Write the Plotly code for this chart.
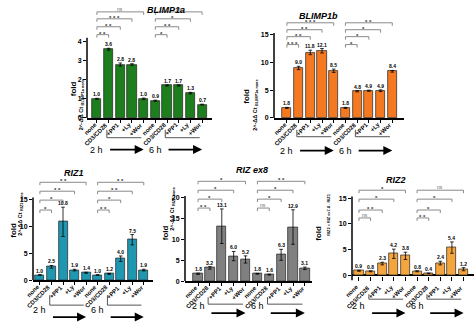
import plotly.graph_objects as go

# ---------------- data ----------------
labels = ["none", "CD3/CD28", "+PP1", "+Ly", "+Wor",
          "none", "CD3/CD28", "+PP1", "+Ly", "+Wor"]
positions = list(range(10))

blimp1a = [1.0, 3.6, 2.8, 2.8, 1.0, 0.9, 1.7, 1.7, 1.3, 0.7]
blimp1a_err = [0.03, 0.05, 0.08, 0.04, 0.04, 0.03, 0.03, 0.03, 0.04, 0.02]
blimp1a_sig = [(0, 1, "* *"), (0, 2, "* *"), (0, 3, "* * *"), (0, 4, "ns"),
               (5, 6, "*"), (5, 7, "* *"), (5, 8, "*"), (5, 9, "ns")]

blimp1b = [1.8, 9.0, 11.8, 12.1, 8.5, 1.8, 4.8, 4.9, 4.9, 8.4]
blimp1b_err = [0.1, 0.3, 0.4, 0.4, 0.3, 0.1, 0.1, 0.1, 0.15, 0.15]
blimp1b_sig = [(0, 1, "* * *"), (0, 2, "* *"), (0, 3, "* *"), (0, 4, "* * *"),
               (5, 6, "*"), (5, 7, "*"), (5, 8, "*"), (5, 9, "* *")]

riz1 = [1.0, 2.5, 10.8, 1.9, 1.4, 1.0, 1.2, 4.0, 7.5, 1.9]
riz1_err = [0.05, 0.25, 2.7, 0.15, 0.1, 0.05, 0.1, 0.5, 0.95, 0.15]
riz1_sig = [(0, 1, "*"), (0, 2, "*"), (0, 3, "* *"), (0, 4, "* *"),
            (5, 6, "* *"), (5, 7, "*"), (5, 8, "* *"), (5, 9, "* *")]

rizex8 = [1.8, 3.2, 13.1, 6.0, 5.2, 1.8, 1.6, 6.3, 12.9, 3.1]
rizex8_err = [0.15, 0.3, 4.1, 1.1, 0.85, 0.1, 0.1, 1.3, 4.1, 0.3]
rizex8_sig = [(0, 1, "* *"), (0, 2, "*"), (0, 3, "*"), (0, 4, "*"),
              (5, 6, "ns"), (5, 7, "*"), (5, 8, "*"), (5, 9, "* *")]

riz2 = [0.9, 0.8, 2.3, 4.2, 3.8, 0.8, 0.4, 2.4, 5.4, 1.2]
riz2_err = [0.1, 0.1, 0.25, 0.9, 0.7, 0.1, 0.05, 0.35, 1.1, 0.3]
riz2_sig = [(0, 1, "ns"), (0, 2, "* *"), (0, 3, "*"), (0, 4, "*"),
            (5, 6, "* *"), (5, 7, "*"), (5, 8, "*"), (5, 9, "ns")]

# ---------------- layout geometry (pixels) ----------------
W, H = 474, 323
FONT = "Liberation Sans, Arial, sans-serif"

panels = [
    dict(title="BLIMP1a", vals=blimp1a, err=blimp1a_err, sig=blimp1a_sig, color="#1C7E1C",
         xpx=(87, 212), xr=(-0.85, 9.85), y0=119, ppu=19.25, ymin=0, ytop=4.2,
         ticks=[0, 1, 2, 3, 4], lev=[35, 27, 19, 12], tpos=(145, 3),
         ylab="2^-ΔΔ Ct <sub>BLIMP1a none</sub>", fold=(67, 80), sub=(76, 78),
         brk=(131, 139), hy=151, bottom_line=True),
    dict(title="BLIMP1b", vals=blimp1b, err=blimp1b_err, sig=blimp1b_sig, color="#F47920",
         xpx=(274, 404), xr=(-1.1, 10.0), y0=119, ppu=5.6, ymin=0, ytop=15.3,
         ticks=[0, 5, 10, 15], lev=[45, 37, 30, 23], tpos=(340, 9),
         ylab="2^-ΔΔ Ct <sub>BLIMP1a none</sub>", fold=(247, 87), sub=(256, 78),
         brk=(131, 138), hy=152, bottom_line=True),
    dict(title="RIZ1", vals=riz1, err=riz1_err, sig=riz1_sig, color="#2097B0",
         xpx=(33, 153), xr=(-0.6, 9.8), y0=283, ppu=5.47, ymin=0, ytop=15.3,
         ticks=[0, 5, 10, 15], lev=[212, 202, 193, 184], tpos=(62, 175),
         ylab="2^-ΔΔ Ct <sub>RIZ1 none</sub>", fold=(7, 242), sub=(15, 240),
         brk=(298, 308), hy=320, bottom_line=True),
    dict(title="RIZ ex8", vals=rizex8, err=rizex8_err, sig=rizex8_sig, color="#808080",
         xpx=(185, 312), xr=(-1.1, 9.6), y0=284, ppu=4.25, ymin=0, ytop=20.3,
         ticks=[0, 5, 10, 15, 20], lev=[210, 201, 192, 183], tpos=(252, 172),
         ylab="2^-ΔΔ Ct <sub>RIZT none</sub>", fold=(165, 245), sub=(173, 235),
         brk=(300, 307), hy=316, bottom_line=True),
    dict(title="RIZ2", vals=riz2, err=riz2_err, sig=riz2_sig, color="#F5A53E",
         xpx=(352, 474), xr=(-0.6, 9.9), y0=278, ppu=5.2, ymin=-1, ytop=15.3,
         ticks=[0, 5, 10, 15], lev=[220, 212, 201, 192], tpos=(408, 182),
         ylab="<sub>RIZ2 = RIZ ex7-8 - RIZ1</sub>", fold=(325, 245), sub=(333, 240),
         brk=(297, 302), hy=316, bottom_line=False),
]

fig = go.Figure()
shapes = []
annotations = []
layout_axes = {}


def py(p):
    return 1 - p / H


for k, p in enumerate(panels, start=1):
    xa = "x" if k == 1 else f"x{k}"
    ya = "y" if k == 1 else f"y{k}"
    xname = "xaxis" if k == 1 else f"xaxis{k}"
    yname = "yaxis" if k == 1 else f"yaxis{k}"

    ybot_px = p["y0"] - p["ymin"] * p["ppu"]
    ytop_px = max(min(p["lev"]) - 14, 0)
    yrange = [p["ymin"], (p["y0"] - ytop_px) / p["ppu"]]

    def val(pix, p=p):
        return (p["y0"] - pix) / p["ppu"]

    layout_axes[xname] = dict(
        domain=[p["xpx"][0] / W, min(p["xpx"][1] / W, 1.0)], range=list(p["xr"]),
        anchor=ya, tickmode="array", tickvals=positions, showticklabels=False,
        showline=p["bottom_line"], linecolor="black", linewidth=1.5,
        ticks="outside" if p["bottom_line"] else "inside", ticklen=3 if p["bottom_line"] else 4,
        tickwidth=1, tickcolor="black",
        showgrid=False, zeroline=False, fixedrange=True)
    layout_axes[yname] = dict(
        domain=[max(py(ybot_px), 0.0), min(py(ytop_px), 1.0)], range=yrange, anchor=xa,
        tickmode="array", tickvals=p["ticks"],
        tickfont=dict(family=FONT, size=7, color="black", weight="bold"),
        showline=False, ticks="outside", ticklen=3, tickwidth=1, tickcolor="black",
        showgrid=False, zeroline=(p["ymin"] < 0), zerolinecolor="black", zerolinewidth=1.5,
        fixedrange=True)

    # y axis line (limited to the data scale)
    shapes.append(dict(type="line", xref=f"{xa} domain", yref=ya, x0=0, x1=0,
                       y0=p["ymin"], y1=p["ytop"], line=dict(color="black", width=1.5)))

    # bars
    fig.add_trace(go.Bar(
        x=positions, y=p["vals"], xaxis=xa, yaxis=ya, width=0.78,
        marker=dict(color=p["color"], line=dict(color="#222222", width=0.7)),
        error_y=dict(type="data", array=p["err"], color="black", thickness=0.8, width=1.8),
        showlegend=False, hoverinfo="skip"))

    # category labels (rotated) below the axis
    for i, lab in zip(positions, labels):
        annotations.append(dict(x=i, y=py(ybot_px + 2), xref=xa, yref="paper",
                                text=f"<b>{lab}</b>", textangle=-45, showarrow=False,
                                xanchor="right", yanchor="top", xshift=2, borderpad=0,
                                font=dict(family=FONT, size=6, color="black")))

    # value labels
    for i, (v, e) in enumerate(zip(p["vals"], p["err"])):
        annotations.append(dict(x=i, y=v + e, xref=xa, yref=ya, text=f"<b>{v:.1f}</b>",
                                showarrow=False, yanchor="bottom", yshift=0, borderpad=0,
                                font=dict(family=FONT, size=5, color="black")))

    # significance brackets
    tick_d = 3 / p["ppu"]
    for j, (a, b, s) in enumerate(p["sig"]):
        lvl = val(p["lev"][j % 4])
        fig.add_trace(go.Scatter(
            x=[a, a, b, b], y=[lvl - tick_d, lvl, lvl, lvl - tick_d], xaxis=xa, yaxis=ya,
            mode="lines", line=dict(color="#8a8a8a", width=1), showlegend=False,
            hoverinfo="skip"))
        ns = s == "ns"
        annotations.append(dict(x=(a + b) / 2, y=lvl, xref=xa, yref=ya,
                                text=s if ns else f"<b>{s}</b>", showarrow=False,
                                yanchor="bottom", yshift=-3 if not ns else -1, borderpad=0,
                                font=dict(family=FONT, size=5 if ns else 6,
                                          color="#666" if ns else "#333")))

    # title
    annotations.append(dict(x=p["tpos"][0] / W, y=py(p["tpos"][1]), xref="paper", yref="paper",
                            text=f"<b><i>{p['title']}</i></b>", showarrow=False,
                            font=dict(family=FONT, size=9, color="black")))
    # y labels
    annotations.append(dict(x=p["fold"][0] / W, y=py(p["fold"][1]), xref="paper", yref="paper",
                            text="<b>fold</b>", textangle=-90, showarrow=False,
                            font=dict(family=FONT, size=8, color="black")))
    annotations.append(dict(x=p["sub"][0] / W, y=py(p["sub"][1]), xref="paper", yref="paper",
                            text=f"<b>{p['ylab']}</b>", textangle=-90, showarrow=False,
                            font=dict(family=FONT, size=5.5, color="black")))

    # group brackets, time labels and arrows below the axis
    for g0, tlabel in ((0, "2 h"), (5, "6 h")):
        shapes.append(dict(type="line", xref=xa, yref="paper", x0=g0 + 0.85, x1=g0 + 0.85,
                           y0=py(p["brk"][0]), y1=py(p["brk"][1]),
                           line=dict(color="#555", width=1)))
        shapes.append(dict(type="line", xref=xa, yref="paper", x0=g0 + 0.85, x1=g0 + 3.8,
                           y0=py(p["brk"][1]), y1=py(p["brk"][1]),
                           line=dict(color="#555", width=1)))
        annotations.append(dict(x=g0, y=py(p["hy"]), xref=xa, yref="paper", text=tlabel,
                                showarrow=False, font=dict(family=FONT, size=9, color="black")))
        annotations.append(dict(x=g0 + 4.0, y=py(p["hy"]), xref=xa, yref="paper", text="",
                                showarrow=True, axref=xa, ax=g0 + 1, ayref="pixel", ay=0,
                                arrowhead=2, arrowsize=1, arrowwidth=1.8, arrowcolor="black",
                                standoff=0, startstandoff=0))

fig.update_layout(
    width=W, height=H, margin=dict(l=0, r=0, t=0, b=0),
    paper_bgcolor="white", plot_bgcolor="rgba(0,0,0,0)",
    bargap=0, shapes=shapes, annotations=annotations,
    font=dict(family=FONT, color="black"), showlegend=False,
    **layout_axes)

fig.write_html("out.html", config={"displayModeBar": False})
